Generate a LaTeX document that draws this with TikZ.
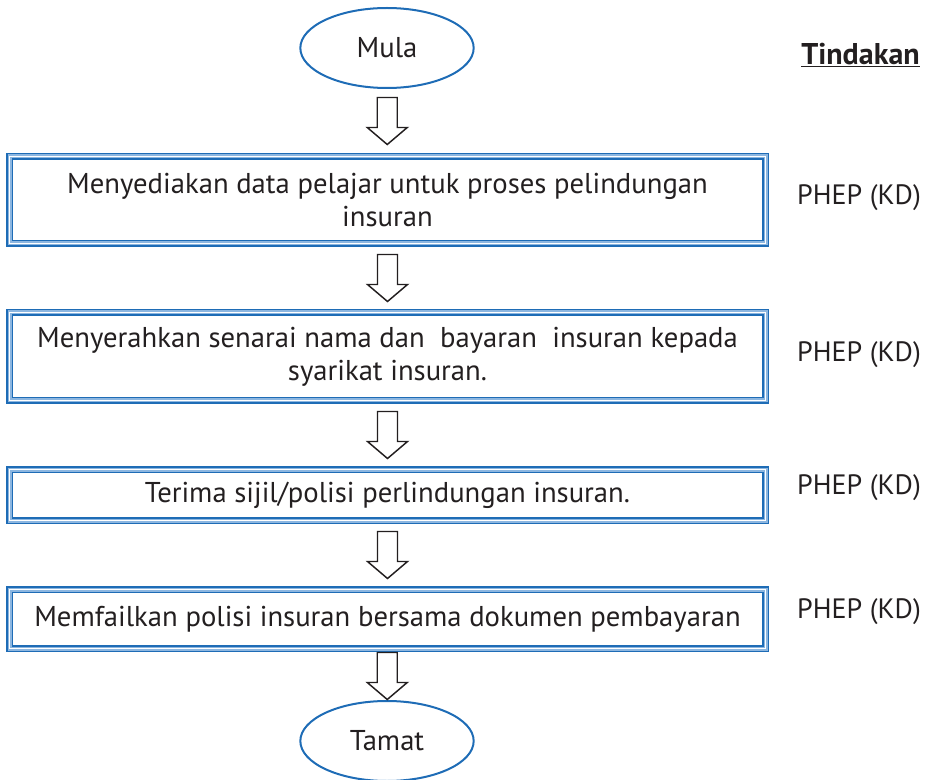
\documentclass[tikz,border=0pt]{standalone}
\usepackage{fontspec}
\setmainfont{PT Sans}
\usetikzlibrary{shapes.geometric}
\definecolor{darkblue}{RGB}{30,108,182}
\definecolor{paleblue}{RGB}{140,182,224}
\definecolor{inkgray}{RGB}{35,31,32}
\tikzset{
    endpoint/.style={ellipse, draw=darkblue, line width=1.5pt, minimum width=130pt, minimum height=60pt, inner sep=0pt, text=inkgray, font=\fontsize{21.5}{25}\selectfont},
    stepbox/.style={rectangle, draw=darkblue, line width=5.25pt, minimum width=567pt, align=center, text=inkgray, font=\fontsize{21.5}{24.75}\selectfont,
        postaction={draw=paleblue, line width=3pt}, postaction={draw=white, line width=0.75pt}},
    actor/.style={text=inkgray, font=\fontsize{21}{25}\selectfont},
    blockarrow/.pic={\draw[inkgray, line width=1.1pt, line join=miter] (-10,-23.5) -- (10,-23.5) -- (10,6.5) -- (20,6.5) -- (0,23.5) -- (-20,6.5) -- (-10,6.5) -- cycle;}
}
\begin{document}
\begin{tikzpicture}[x=0.75pt, y=-0.75pt]
    \useasboundingbox (0,0) rectangle (928,780);
    \node[endpoint] (mula) at (387,48) {Mula};
    \node[stepbox, minimum height=65.25pt] (s1) at (387.5,200) {Menyediakan data pelajar untuk proses pelindungan\\insuran};
    \node[stepbox, minimum height=66pt] (s2) at (387.5,356.5) {Menyerahkan senarai nama dan\ \ bayaran\ \ insuran kepada\\syarikat insuran.};
    \node[stepbox, minimum height=38.25pt] (s3) at (387.5,495) {Terima sijil/polisi perlindungan insuran.};
    \node[stepbox, minimum height=44.25pt] (s4) at (387.5,619) {Memfailkan polisi insuran bersama dokumen pembayaran};
    \node[endpoint] (tamat) at (387,741) {Tamat};
    \node[actor, font=\fontsize{22.5}{25}\selectfont\bfseries] (tindakan) at (860.5,55) {\underline{Tindakan}};
    \node[actor] (p1) at (859,198) {PHEP (KD)};
    \node[actor] (p2) at (859,355) {PHEP (KD)};
    \node[actor] (p3) at (859,488) {PHEP (KD)};
    \node[actor] (p4) at (859,612) {PHEP (KD)};
    \path (mula.south) -- pic[midway]{blockarrow} (s1.north);
    \path (s1.south) -- pic[midway]{blockarrow} (s2.north);
    \path (s2.south) -- pic[midway]{blockarrow} (s3.north);
    \path (s3.south) -- pic[midway]{blockarrow} (s4.north);
    \path (s4.south) -- pic[midway]{blockarrow} (tamat.north);
\end{tikzpicture}
\end{document}
